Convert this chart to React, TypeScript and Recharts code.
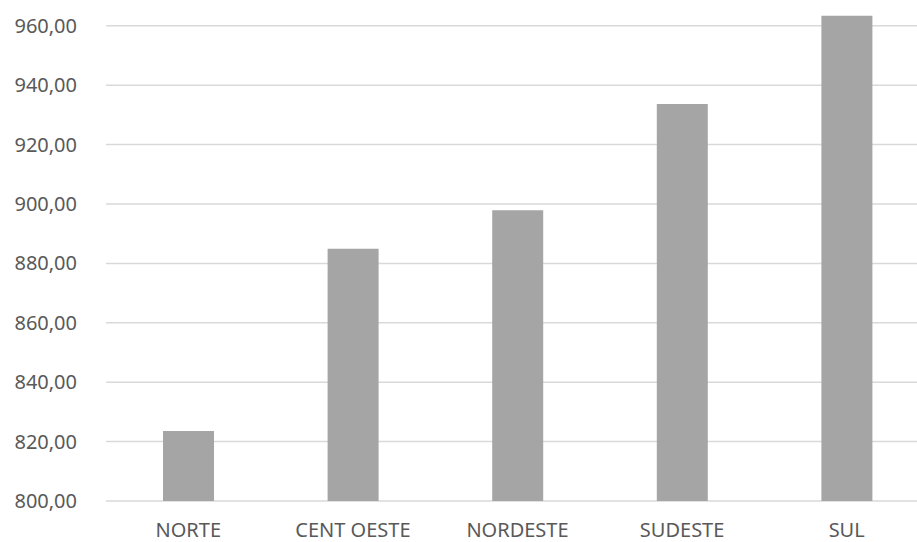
import React from "react";
import { BarChart, Bar, XAxis, YAxis, CartesianGrid } from "recharts";

const REGIONS = ["NORTE", "CENT OESTE", "NORDESTE", "SUDESTE", "SUL"];
const VALUES = [823.6, 884.9, 897.9, 933.7, 963.4];
const Y_TICKS = [800, 820, 840, 860, 880, 900, 920, 940, 960];

const data = REGIONS.map((region, i) => ({ region, value: VALUES[i] }));

const FONT = "'Noto Sans', 'Open Sans', sans-serif";
const TEXT = "#595959";

const fmt = (v: number) => v.toFixed(2).replace(".", ",");

const App: React.FC = () => {
  return (
    <div
      style={{
        position: "fixed",
        top: 0,
        left: 0,
        width: 917,
        height: 542,
        overflow: "hidden",
        background: "#fff",
        fontFamily: FONT,
      }}
    >
      <BarChart
        width={935}
        height={542}
        data={data}
        margin={{ top: 2, right: 6, bottom: 0, left: 0 }}
      >
        {/* gridlines follow the labelled ticks only */}
        <CartesianGrid
          vertical={false}
          syncWithTicks
          stroke="#d9d9d9"
          strokeWidth={1.5}
        />
        <XAxis
          dataKey="region"
          height={41}
          axisLine={false}
          tickLine={false}
          tickMargin={16}
          tick={{ fill: TEXT, fontSize: 20, fontFamily: FONT }}
          interval={0}
        />
        <YAxis
          width={106}
          domain={[800, 968]}
          ticks={Y_TICKS}
          tickFormatter={fmt}
          axisLine={false}
          tickLine={false}
          tickMargin={23}
          tick={{ fill: TEXT, fontSize: 20, fontFamily: FONT }}
        />
        <Bar
          dataKey="value"
          fill="#a5a5a5"
          barSize={51}
          isAnimationActive={false}
        />
      </BarChart>
    </div>
  );
};

export default App;
